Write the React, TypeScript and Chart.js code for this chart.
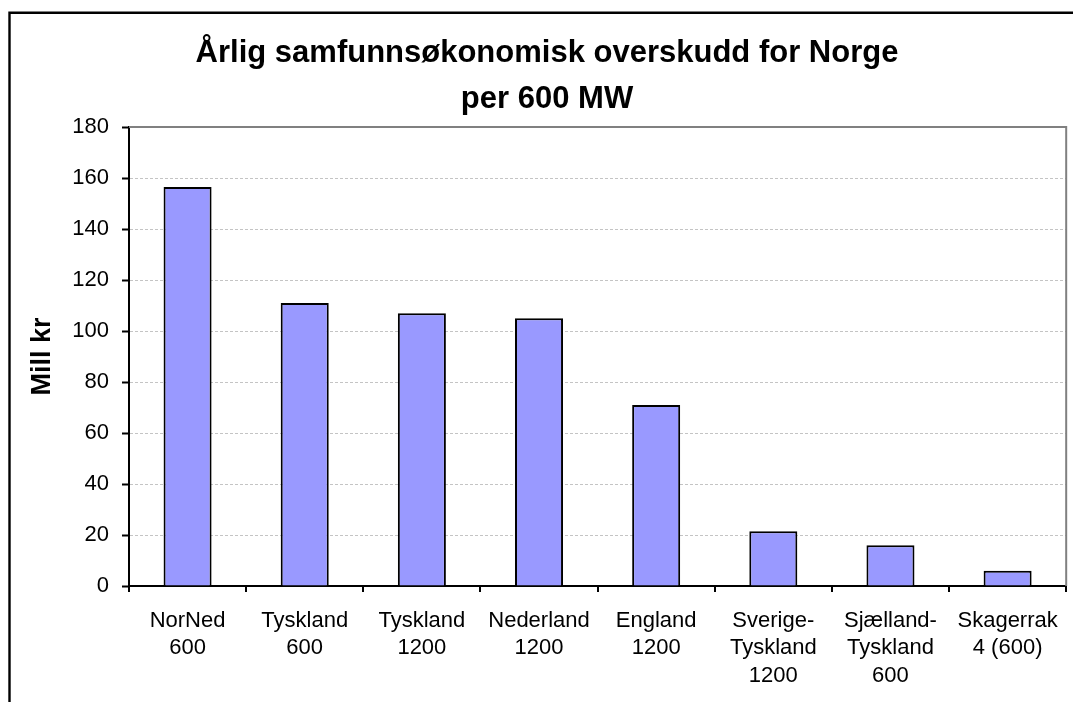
import React, { useEffect, useRef } from 'react';
import { Chart, registerables } from 'chart.js';

Chart.register(...registerables);

const FONT = '"Liberation Sans", Arial, Helvetica, sans-serif';

const categories: string[][] = [
  ['NorNed', '600'],
  ['Tyskland', '600'],
  ['Tyskland', '1200'],
  ['Nederland', '1200'],
  ['England', '1200'],
  ['Sverige-', 'Tyskland', '1200'],
  ['Sjælland-', 'Tyskland', '600'],
  ['Skagerrak', '4 (600)'],
];
const values: number[] = [156.5, 111, 107, 105, 71, 21.5, 16, 6];
const titleLines: string[] = ['Årlig samfunnsøkonomisk overskudd for Norge', 'per 600 MW'];
const yAxisTitle = 'Mill kr';
const yMin = 0;
const yMax = 180;
const yStep = 20;

const framePlugin = {
  id: 'frame',
  afterDraw(chart: any) {
    const { ctx, chartArea: a } = chart;
    ctx.save();
    ctx.setLineDash([]);
    ctx.strokeStyle = '#808080';
    ctx.lineWidth = 2;
    ctx.beginPath();
    ctx.moveTo(a.left, a.top);
    ctx.lineTo(a.right, a.top);
    ctx.lineTo(a.right, a.bottom);
    ctx.stroke();
    ctx.strokeStyle = '#000';
    ctx.lineWidth = 2.4;
    ctx.beginPath();
    ctx.moveTo(9.5, chart.height + 2);
    ctx.lineTo(9.5, 12.7);
    ctx.lineTo(chart.width + 2, 12.7);
    ctx.stroke();
    ctx.restore();
  },
};

export default function App() {
  const ref = useRef<HTMLCanvasElement>(null);
  useEffect(() => {
    document.body.style.margin = '0';
    const chart = new Chart(ref.current as HTMLCanvasElement, {
      type: 'bar',
      data: {
        labels: categories,
        datasets: [
          {
            data: values,
            backgroundColor: '#9999FF',
            borderColor: '#000000',
            borderWidth: 2,
            barPercentage: 0.41,
            categoryPercentage: 1,
          },
        ],
      },
      options: {
        animation: false,
        responsive: false,
        layout: { padding: { left: 25, right: 4, top: 0, bottom: 0 } },
        plugins: {
          legend: { display: false },
          tooltip: { enabled: false },
          title: {
            display: true,
            text: titleLines,
            color: '#000',
            font: { family: FONT, size: 31, weight: 'bold', lineHeight: 1.5 },
            padding: { top: 30, bottom: 4 },
          },
        },
        scales: {
          x: {
            type: 'category',
            offset: true,
            grid: {
              display: true,
              offset: true,
              drawOnChartArea: false,
              color: '#000',
              tickColor: '#000',
              tickLength: 6,
              tickWidth: 2,
              lineWidth: 2,
            },
            border: { display: true, color: '#000', width: 2 },
            ticks: {
              color: '#000',
              font: { family: FONT, size: 22, lineHeight: 1.25 },
              padding: 15,
              autoSkip: false,
              maxRotation: 0,
              minRotation: 0,
            },
            afterFit(s: any) {
              s.height = 116;
            },
          },
          y: {
            min: yMin,
            max: yMax,
            ticks: {
              stepSize: yStep,
              color: '#000',
              font: { family: FONT, size: 22 },
              padding: 13,
            },
            grid: {
              color: '#c4c4c4',
              lineWidth: 1,
              tickColor: '#000',
              tickWidth: 2,
              tickLength: 7,
              tickBorderDash: [],
            },
            border: { display: true, color: '#000', width: 2, dash: [3, 2] },
            title: {
              display: true,
              text: yAxisTitle,
              color: '#000',
              font: { family: FONT, size: 27, weight: 'bold', lineHeight: 1.2 },
              padding: { top: 1, bottom: 0 },
            },
            afterFit(s: any) {
              s.width = 104;
            },
          },
        },
      } as any,
      plugins: [framePlugin],
    });
    return () => chart.destroy();
  }, []);
  return (
    <div style={{ position: 'absolute', left: 0, top: 0, width: 1073, height: 702, background: '#fff' }}>
      <canvas ref={ref} width={1073} height={702} style={{ display: 'block' }} />
    </div>
  );
}
